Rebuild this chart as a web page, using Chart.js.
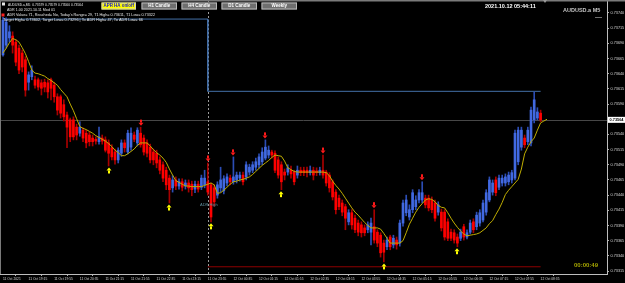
<!DOCTYPE html>
<html><head><meta charset="utf-8">
<script src="https://cdn.jsdelivr.net/npm/chart.js@4.4.0/dist/chart.umd.min.js"></script>
<style>html,body{margin:0;padding:0;background:#000;overflow:hidden}canvas{display:block}</style>
</head><body>
<canvas id="c" width="625" height="283"></canvas>
<script>
// ---------- data ----------
const timeLabels = ["11 Oct 2021","11 Oct 19:15","11 Oct 19:55","11 Oct 20:35","11 Oct 21:15","11 Oct 21:55","11 Oct 22:35","11 Oct 23:15","11 Oct 23:55","12 Oct 00:35","12 Oct 01:15","12 Oct 01:55","12 Oct 02:35","12 Oct 03:15","12 Oct 03:55","12 Oct 04:35","12 Oct 05:15","12 Oct 05:55","12 Oct 06:35","12 Oct 07:15","12 Oct 07:55","12 Oct 08:35"];
const labelEveryBars = 8;

const opens = [0.73671,0.73687,0.73699,0.73702,0.73692,0.73682,0.73674,0.73663,0.73626,0.73635,
0.73630,0.73630,0.73625,0.73626,0.73625,0.73630,0.73621,0.73602,0.73602,0.73589,
0.73572,0.73564,0.73564,0.73552,0.73542,0.73547,0.73542,0.73539,0.73534,0.73532,
0.73528,0.73534,0.73531,0.73526,0.73518,0.73511,0.73498,0.73509,0.73526,0.73511,
0.73519,0.73539,0.73526,0.73542,0.73534,0.73526,0.73519,0.73511,0.73509,0.73498,
0.73490,0.73481,0.73468,0.73452,0.73465,0.73455,0.73462,0.73455,0.73460,0.73458,
0.73450,0.73458,0.73453,0.73457,0.73462,0.73457,0.73452,0.73440,0.73452,0.73447,
0.73460,0.73468,0.73462,0.73465,0.73468,0.73473,0.73470,0.73478,0.73481,0.73486,
0.73490,0.73495,0.73501,0.73506,0.73511,0.73509,0.73498,0.73490,0.73478,0.73478,
0.73481,0.73478,0.73473,0.73481,0.73481,0.73481,0.73477,0.73481,0.73480,0.73477,
0.73481,0.73478,0.73473,0.73462,0.73445,0.73435,0.73427,0.73421,0.73396,0.73411,
0.73402,0.73394,0.73391,0.73386,0.73383,0.73379,0.73388,0.73379,0.73374,0.73361,
0.73355,0.73371,0.73358,0.73366,0.73361,0.73394,0.73411,0.73404,0.73416,0.73421,
0.73432,0.73432,0.73435,0.73435,0.73432,0.73427,0.73412,0.73412,0.73412,0.73396,
0.73379,0.73378,0.73371,0.73369,0.73388,0.73371,0.73379,0.73396,0.73388,0.73394,
0.73399,0.73412,0.73432,0.73445,0.73465,0.73453,0.73460,0.73460,0.73462,0.73465,
0.73468,0.73495,0.73519,0.73534,0.73528,0.73526,0.73564,0.73567,0.73575];

const closes = [0.73728,0.73725,0.73709,0.73687,0.73659,0.73646,0.73651,0.73613,0.73638,0.73646,
0.73621,0.73618,0.73616,0.73618,0.73610,0.73616,0.73602,0.73580,0.73575,0.73569,
0.73552,0.73536,0.73536,0.73539,0.73552,0.73534,0.73526,0.73528,0.73528,0.73529,
0.73536,0.73529,0.73514,0.73509,0.73503,0.73498,0.73514,0.73526,0.73518,0.73542,
0.73542,0.73532,0.73547,0.73523,0.73511,0.73509,0.73498,0.73498,0.73493,0.73481,
0.73468,0.73457,0.73449,0.73465,0.73455,0.73462,0.73453,0.73460,0.73452,0.73449,
0.73458,0.73450,0.73468,0.73468,0.73445,0.73404,0.73429,0.73457,0.73465,0.73467,
0.73470,0.73462,0.73470,0.73473,0.73473,0.73462,0.73490,0.73486,0.73490,0.73495,
0.73503,0.73511,0.73519,0.73514,0.73506,0.73481,0.73473,0.73462,0.73473,0.73485,
0.73475,0.73462,0.73481,0.73477,0.73477,0.73477,0.73481,0.73473,0.73477,0.73481,
0.73473,0.73460,0.73452,0.73437,0.73416,0.73421,0.73412,0.73402,0.73411,0.73391,
0.73383,0.73379,0.73378,0.73378,0.73391,0.73394,0.73366,0.73361,0.73345,0.73346,
0.73366,0.73355,0.73369,0.73358,0.73394,0.73427,0.73432,0.73416,0.73444,0.73432,
0.73444,0.73444,0.73424,0.73419,0.73416,0.73402,0.73424,0.73386,0.73371,0.73369,
0.73369,0.73366,0.73361,0.73379,0.73371,0.73378,0.73394,0.73383,0.73407,0.73411,
0.73427,0.73444,0.73465,0.73460,0.73444,0.73468,0.73468,0.73470,0.73473,0.73477,
0.73542,0.73547,0.73547,0.73523,0.73547,0.73580,0.73597,0.73577,0.73564];

const highs = [0.73733,0.73732,0.73719,0.73709,0.73696,0.73687,0.73679,0.73668,0.73643,0.73653,
0.73636,0.73633,0.73630,0.73631,0.73630,0.73633,0.73626,0.73607,0.73605,0.73597,
0.73577,0.73567,0.73569,0.73557,0.73561,0.73551,0.73547,0.73544,0.73539,0.73536,
0.73552,0.73539,0.73536,0.73531,0.73523,0.73516,0.73518,0.73531,0.73531,0.73547,
0.73551,0.73544,0.73551,0.73552,0.73539,0.73531,0.73524,0.73516,0.73514,0.73503,
0.73495,0.73486,0.73473,0.73472,0.73470,0.73467,0.73467,0.73465,0.73465,0.73463,
0.73463,0.73463,0.73473,0.73481,0.73493,0.73460,0.73457,0.73462,0.73486,0.73472,
0.73475,0.73473,0.73503,0.73478,0.73478,0.73478,0.73495,0.73491,0.73495,0.73501,
0.73508,0.73518,0.73531,0.73521,0.73514,0.73513,0.73503,0.73495,0.73483,0.73490,
0.73488,0.73481,0.73488,0.73486,0.73486,0.73486,0.73488,0.73486,0.73485,0.73486,
0.73506,0.73481,0.73477,0.73465,0.73449,0.73440,0.73432,0.73425,0.73416,0.73416,
0.73407,0.73399,0.73396,0.73391,0.73396,0.73402,0.73416,0.73383,0.73378,0.73366,
0.73371,0.73374,0.73374,0.73371,0.73399,0.73432,0.73440,0.73424,0.73449,0.73439,
0.73449,0.73462,0.73440,0.73440,0.73437,0.73432,0.73429,0.73417,0.73416,0.73401,
0.73384,0.73383,0.73376,0.73384,0.73392,0.73383,0.73399,0.73401,0.73412,0.73416,
0.73432,0.73449,0.73470,0.73465,0.73470,0.73473,0.73473,0.73475,0.73478,0.73481,
0.73547,0.73552,0.73552,0.73539,0.73552,0.73585,0.73610,0.73584,0.73580];

const lows = [0.73669,0.73682,0.73692,0.73674,0.73653,0.73640,0.73643,0.73603,0.73613,0.73630,
0.73616,0.73613,0.73605,0.73610,0.73600,0.73597,0.73593,0.73572,0.73567,0.73562,
0.73518,0.73528,0.73531,0.73531,0.73537,0.73528,0.73518,0.73521,0.73521,0.73524,
0.73524,0.73524,0.73511,0.73488,0.73498,0.73491,0.73493,0.73504,0.73511,0.73508,
0.73514,0.73528,0.73521,0.73519,0.73506,0.73503,0.73493,0.73490,0.73485,0.73475,
0.73462,0.73449,0.73427,0.73445,0.73449,0.73450,0.73447,0.73450,0.73445,0.73439,
0.73444,0.73445,0.73449,0.73452,0.73440,0.73396,0.73422,0.73435,0.73445,0.73442,
0.73455,0.73457,0.73458,0.73460,0.73463,0.73457,0.73465,0.73473,0.73477,0.73481,
0.73485,0.73490,0.73498,0.73501,0.73501,0.73477,0.73468,0.73449,0.73465,0.73473,
0.73468,0.73457,0.73468,0.73472,0.73472,0.73470,0.73473,0.73465,0.73472,0.73473,
0.73468,0.73455,0.73445,0.73432,0.73409,0.73416,0.73406,0.73383,0.73391,0.73384,
0.73378,0.73373,0.73371,0.73373,0.73378,0.73358,0.73361,0.73355,0.73338,0.73330,
0.73350,0.73350,0.73353,0.73351,0.73356,0.73389,0.73406,0.73399,0.73411,0.73416,
0.73427,0.73427,0.73419,0.73414,0.73411,0.73397,0.73407,0.73381,0.73366,0.73365,
0.73365,0.73361,0.73355,0.73365,0.73366,0.73368,0.73376,0.73378,0.73383,0.73389,
0.73396,0.73407,0.73429,0.73440,0.73439,0.73449,0.73455,0.73455,0.73457,0.73460,
0.73465,0.73490,0.73514,0.73518,0.73523,0.73521,0.73559,0.73564,0.73561];

const maValues = [0.73674,0.73682,0.73691,0.73698,0.73696,0.73692,0.73683,0.73673,0.73660,0.73646,
0.73641,0.73640,0.73638,0.73636,0.73632,0.73629,0.73625,0.73621,0.73614,0.73608,
0.73602,0.73590,0.73579,0.73566,0.73553,0.73550,0.73548,0.73545,0.73542,0.73538,
0.73535,0.73532,0.73529,0.73525,0.73520,0.73514,0.73510,0.73505,0.73505,0.73508,
0.73512,0.73516,0.73522,0.73526,0.73526,0.73526,0.73521,0.73515,0.73510,0.73506,
0.73501,0.73494,0.73483,0.73473,0.73464,0.73461,0.73458,0.73455,0.73455,0.73454,
0.73454,0.73454,0.73454,0.73456,0.73458,0.73460,0.73457,0.73443,0.73444,0.73448,
0.73453,0.73458,0.73462,0.73463,0.73465,0.73466,0.73468,0.73470,0.73474,0.73479,
0.73484,0.73489,0.73493,0.73497,0.73502,0.73506,0.73505,0.73504,0.73496,0.73485,
0.73482,0.73479,0.73478,0.73478,0.73478,0.73478,0.73478,0.73478,0.73478,0.73478,
0.73478,0.73477,0.73472,0.73463,0.73456,0.73450,0.73443,0.73435,0.73427,0.73419,
0.73412,0.73407,0.73401,0.73395,0.73390,0.73386,0.73386,0.73386,0.73384,0.73377,
0.73369,0.73361,0.73361,0.73361,0.73361,0.73365,0.73378,0.73392,0.73402,0.73412,
0.73420,0.73426,0.73432,0.73434,0.73433,0.73429,0.73423,0.73420,0.73419,0.73411,
0.73402,0.73394,0.73387,0.73381,0.73376,0.73373,0.73374,0.73375,0.73376,0.73378,
0.73382,0.73386,0.73393,0.73398,0.73408,0.73417,0.73428,0.73441,0.73448,0.73454,
0.73460,0.73466,0.73483,0.73508,0.73519,0.73528,0.73534,0.73547,0.73559,0.73562,
0.73565];

const priceTicks = [0.73740,0.73715,0.73690,0.73665,0.73640,0.73615,0.73590,0.73540,0.73515,0.73490,0.73465,0.73440,0.73415,0.73390,0.73365,0.73340,0.73315];
const sellArrowBars = [43,64,72,82,100,116,131];
const buyArrowBars = [33,52,65,87,119,142];
const daySeparatorBar = 64;
const prevTargetHigh = 0.73730;
const targetHigh = 0.73611;
const targetLow = 0.73322;
const currentPrice = closes[closes.length - 1];
const lastBar = closes.length - 1;

// ---------- colours ----------
const BULL = '#4169e1', BEAR = '#ff0000', BULL_WICK = '#2c4db4', BEAR_WICK = '#a80000';
const isBull = i => closes[i] >= opens[i];

const wickData = opens.map((o, i) => ({x: i, y: [lows[i], highs[i]]}));
const bodyData = opens.map((o, i) => ({x: i, y: [o, closes[i]]}));
const maData = maValues.map((v, i) => ({x: i, y: v}));
const targetHighData = [{x: 0, y: prevTargetHigh}, {x: daySeparatorBar, y: prevTargetHigh}, {x: daySeparatorBar, y: targetHigh}, {x: lastBar, y: targetHigh}];
const targetLowData = [{x: daySeparatorBar, y: targetLow}, {x: lastBar, y: targetLow}];

Chart.defaults.font.family = '"Liberation Sans", Arial, sans-serif';

function drawDownArrow(ctx, cx, bottom, color) {
  ctx.fillStyle = color;
  ctx.beginPath();
  ctx.moveTo(cx - 2.5, bottom - 3); ctx.lineTo(cx + 2.5, bottom - 3); ctx.lineTo(cx, bottom); ctx.closePath(); ctx.fill();
  ctx.fillRect(cx - 1, bottom - 6, 2, 3);
}
function drawUpArrow(ctx, cx, top, color) {
  ctx.fillStyle = color;
  ctx.beginPath();
  ctx.moveTo(cx - 2.5, top + 3); ctx.lineTo(cx + 2.5, top + 3); ctx.lineTo(cx, top); ctx.closePath(); ctx.fill();
  ctx.fillRect(cx - 1, top + 3, 2, 3);
}

const backgroundPlugin = {
  id: 'bg',
  beforeDraw(chart) {
    const ctx = chart.ctx;
    ctx.save(); ctx.fillStyle = '#000'; ctx.fillRect(0, 0, chart.width, chart.height); ctx.restore();
  },
  beforeDatasetsDraw(chart) {
    const {ctx, chartArea, scales: {x, y}} = chart;
    ctx.save();
    // current price line
    const py = Math.round(y.getPixelForValue(currentPrice)) + 0.5;
    ctx.strokeStyle = '#474747'; ctx.lineWidth = 1;
    ctx.beginPath(); ctx.moveTo(chartArea.left, py); ctx.lineTo(chartArea.right, py); ctx.stroke();
    // day separator
    const sx = Math.round(x.getPixelForValue(daySeparatorBar)) + 0.5;
    ctx.strokeStyle = '#9a9a9a'; ctx.setLineDash([2, 2]);
    ctx.beginPath(); ctx.moveTo(sx, chartArea.top); ctx.lineTo(sx, chartArea.bottom); ctx.stroke();
    ctx.restore();
  },
  afterDatasetsDraw(chart) {
    const {ctx, scales: {x, y}} = chart;
    ctx.save();
    sellArrowBars.forEach(i => drawDownArrow(ctx, Math.round(x.getPixelForValue(i)), y.getPixelForValue(highs[i]) - 1.5, '#ff1a1a'));
    buyArrowBars.forEach(i => drawUpArrow(ctx, Math.round(x.getPixelForValue(i)), y.getPixelForValue(lows[i]) + 1.5, '#ffff00'));
    ctx.restore();
  },
  afterDraw(chart) {
    const {ctx, chartArea, scales: {y}} = chart;
    ctx.save();
    // frame
    ctx.fillStyle = '#7a7a7a'; ctx.fillRect(0, 0, chart.width, 1.5);
    ctx.fillRect(0, 0, 1, chartArea.bottom);
    ctx.fillStyle = '#9a9a9a';
    ctx.beginPath(); ctx.moveTo(543, 0); ctx.lineTo(547, 0); ctx.lineTo(545, 3); ctx.closePath(); ctx.fill();
    // current price label
    const py = y.getPixelForValue(currentPrice);
    ctx.fillStyle = '#ffffff'; ctx.fillRect(chartArea.right + 1, py - 3, 17, 6);
    ctx.fillStyle = '#000'; ctx.font = 'bold 4px "Liberation Sans"'; ctx.textBaseline = 'middle'; ctx.textAlign = 'left';
    ctx.fillText(currentPrice.toFixed(5), chartArea.right + 2.5, py + 0.3, 14);
    // header texts
    ctx.textBaseline = 'middle';
    ctx.fillStyle = '#e6e6e6'; ctx.font = '4px "Liberation Sans"';
    ctx.fillRect(2, 2.5, 3, 3);
    ctx.fillText('AUDUSD.a,M5  0.73579 0.73579 0.73560 0.73564', 8, 4.5, 75);
    ctx.fillText('ADR 1.00 2021.10.11 Mod 01', 7, 10, 48);
    ctx.fillText('ADR Value= 71, Reached= No, Today\'s Range= 29, T1 High= 0.73611, T1 Low= 0.73322', 7, 15, 148);
    ctx.fillText('Target High= 0.73602, Target Low= 0.73296 | To ADR High= 47, To ADR Low= 66', 3, 20, 140);
    ctx.fillStyle = '#ff2020'; ctx.fillRect(1.5, 13.5, 3, 3);
    // buttons
    const btn = (x0, x1, label, bg, fg, border) => {
      ctx.fillStyle = bg; ctx.fillRect(x0, 2.5, x1 - x0, 7);
      ctx.strokeStyle = border; ctx.lineWidth = 1; ctx.strokeRect(x0 + 0.5, 3, x1 - x0 - 1, 6);
      ctx.fillStyle = fg; ctx.font = 'bold 4.5px "Liberation Sans"'; ctx.textAlign = 'center';
      ctx.fillText(label, (x0 + x1) / 2, 6.2, x1 - x0 - 4);
      ctx.textAlign = 'left';
    };
    btn(101.5, 136, 'APR HA on/off', '#ffff00', '#1010d0', '#c8c8c8');
    btn(141.5, 177, 'H1 Candle', '#6f6f6f', '#ffffff', '#b8b8b8');
    btn(181.5, 217, 'H4 Candle', '#6f6f6f', '#ffffff', '#b8b8b8');
    btn(221.5, 257, 'D1 Candle', '#6f6f6f', '#ffffff', '#b8b8b8');
    btn(261.5, 297, 'Weekly', '#6f6f6f', '#ffffff', '#b8b8b8');
    // clock & symbol
    ctx.fillStyle = '#ffffff'; ctx.font = 'bold 5.5px "Liberation Sans"';
    ctx.fillText('2021.10.12 05:44:11', 485, 6, 58);
    ctx.fillStyle = '#c4c4c4'; ctx.font = 'bold 5.5px "Liberation Sans"';
    ctx.fillText('AUDUSD.a M5', 563, 10.5, 40);
    ctx.fillStyle = '#8a8a8a'; ctx.fillRect(595, 17, 7, 0.8);
    // ADR label near separator
    ctx.fillStyle = '#5d8e9c'; ctx.font = '4px "Liberation Sans"';
    ctx.fillText('ADR High', 200, 205, 18);
    // timer
    ctx.fillStyle = '#a6a600'; ctx.font = 'bold 6px "Liberation Sans"';
    ctx.fillText('00:00:49', 574, 265.5, 29);
    ctx.restore();
  }
};

new Chart(document.getElementById('c'), {
  type: 'bar',
  data: {
    datasets: [
      {type: 'line', data: targetHighData, borderColor: '#4470a8', borderWidth: 1, pointRadius: 0, tension: 0, order: 9},
      {type: 'line', data: targetLowData, borderColor: '#8e0000', borderWidth: 1, pointRadius: 0, tension: 0, order: 9},
      {type: 'bar', data: wickData, grouped: false, barThickness: 1, minBarLength: 1,
       backgroundColor: c => isBull(c.dataIndex) ? BULL_WICK : BEAR_WICK, order: 6},
      {type: 'bar', data: bodyData, grouped: false, barThickness: 2, minBarLength: 1,
       backgroundColor: c => isBull(c.dataIndex) ? BULL : BEAR, order: 5},
      {type: 'line', data: maData, borderColor: '#c0ae00', borderWidth: 1, pointRadius: 0, tension: 0, order: 3}
    ]
  },
  options: {
    responsive: false, animation: false, devicePixelRatio: 1,
    layout: {padding: 0},
    plugins: {legend: {display: false}, tooltip: {enabled: false}},
    scales: {
      x: {
        type: 'linear', min: -0.94, max: 188.75, offset: false,
        afterBuildTicks: s => { s.ticks = timeLabels.map((t, k) => ({value: k * labelEveryBars})); },
        afterFit: s => { s.height = 9; s.paddingLeft = 0; s.paddingRight = 0; },
        ticks: {autoSkip: false, maxRotation: 0, minRotation: 0, align: 'start', padding: 1,
          color: '#d6d6d6', font: {size: 3.3}, callback: (v, i) => timeLabels[i]},
        grid: {drawOnChartArea: false, drawTicks: true, tickLength: 2, color: '#b0b0b0'},
        border: {color: '#bdbdbd', width: 1}
      },
      y: {
        type: 'linear', position: 'right', min: 0.733101, max: 0.737614,
        afterBuildTicks: s => { s.ticks = priceTicks.map(v => ({value: v})); },
        afterFit: s => { s.width = 18; s.paddingTop = 0; s.paddingBottom = 0; },
        ticks: {padding: 1.5, color: '#d6d6d6', font: {size: 3.8}, callback: v => Number(v).toFixed(5)},
        grid: {drawOnChartArea: false, drawTicks: true, tickLength: 2, color: '#b0b0b0'},
        border: {color: '#bdbdbd', width: 1}
      }
    }
  },
  plugins: [backgroundPlugin]
});
</script>
</body></html>
